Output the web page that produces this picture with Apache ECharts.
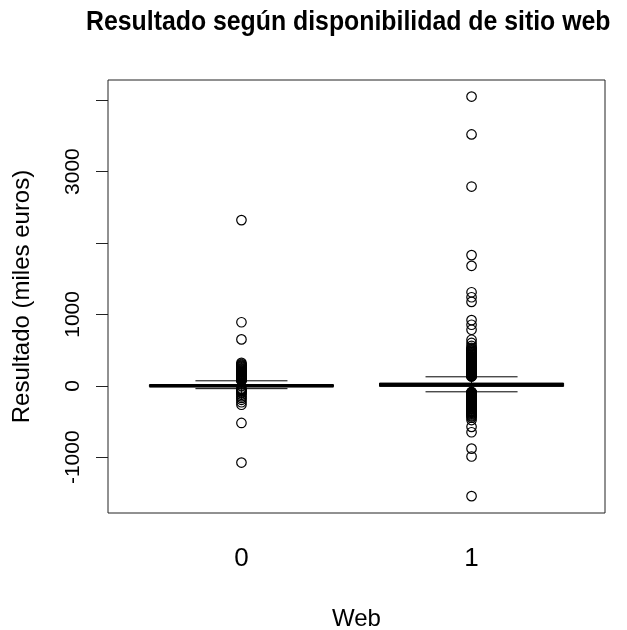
<!DOCTYPE html>
<html>
<head>
<meta charset="utf-8">
<script src="https://cdn.jsdelivr.net/npm/echarts@6/dist/echarts.min.js"></script>
<style>
  html, body { margin: 0; padding: 0; background: #fff; }
  #chart { width: 627px; height: 630px; }
</style>
</head>
<body>
<div id="chart"></div>
<script>
// Groups: whether the firm has a website (0 = no, 1 = yes)
const groups = ['0', '1'];
const groupPos = [1, 2];

// Box statistics per group (thousand euros)
const whiskerLow  = [-40, -84];
const quartile1   = [-12, -8];
const medians     = [0, 15];
const quartile3   = [14, 38];
const whiskerHigh = [70, 126];

// Outlying results per group (thousand euros)
const outliers0 = [2320, 890, 650,
  321, 305, 292, 280, 268, 257, 246, 236, 226, 217, 208, 199, 191, 183, 175, 168, 161, 154,
  147, 141, 135, 129, 123, 118, 113, 108, 103, 98, 94, 90, 86, 82, 78, 75,
  -45, -50, -56, -62, -70, -80, -92, -105, -126, -150, -170, -196, -230, -265,
  -520, -1075];
const outliers1 = [4050, 3520, 2790, 1830, 1680, 1310, 1240, 1175, 920, 855, 785, 645, 600, 560,
  531, 520, 508, 497, 488, 476, 465, 455, 447, 436, 428, 417, 409, 398, 390, 381, 372, 364, 355,
  348, 340, 333, 325, 318, 311, 303, 296, 290, 283, 277, 270, 264, 258, 252, 246, 240, 234, 229,
  223, 218, 212, 207, 202, 197, 192, 187, 182, 178, 173, 169, 164, 160, 156, 152, 148, 144, 140,
  137, 133, 130,
  -86, -90, -95, -99, -104, -109, -113, -118, -123, -128, -134, -139, -145, -150, -156, -162,
  -168, -174, -181, -187, -194, -201, -208, -216, -223, -231, -239, -247, -256, -265, -274, -283,
  -292, -302, -312, -322, -333, -344, -355, -366, -378, -390, -402, -415, -428, -447,
  -480, -575, -650, -880, -990, -1545];

// Axis ticks and the subset that carries labels
const yTicks = [-1000, 0, 1000, 2000, 3000, 4000];
const yLabels = [-1000, 0, 1000, 3000];

const TITLE = 'Resultado según disponibilidad de sitio web';
const FONT = '"Liberation Sans", Arial, sans-serif';
const INK = '#000';
const AXIS = '#222';

const boxData = groupPos.map((p, i) =>
  [p, whiskerLow[i], quartile1[i], medians[i], quartile3[i], whiskerHigh[i]]);

const outlierData = [];
outliers0.forEach(v => outlierData.push([groupPos[0], v]));
outliers1.forEach(v => outlierData.push([groupPos[1], v]));

function renderBox(params, api) {
  const x = api.value(0);
  const lo = api.value(1), q1 = api.value(2), med = api.value(3), q3 = api.value(4), hi = api.value(5);
  const half = api.size([0.8, 0])[0] / 2;
  const stapleHalf = half / 2;
  const pLo = api.coord([x, lo]), pQ1 = api.coord([x, q1]), pMed = api.coord([x, med]);
  const pQ3 = api.coord([x, q3]), pHi = api.coord([x, hi]);
  const cx = pMed[0];
  const thin = { stroke: INK, lineWidth: 1, fill: null };
  return {
    type: 'group',
    children: [
      { type: 'line', shape: { x1: cx, y1: pQ3[1], x2: cx, y2: pHi[1] }, style: Object.assign({ lineDash: [4, 3] }, thin) },
      { type: 'line', shape: { x1: cx, y1: pQ1[1], x2: cx, y2: pLo[1] }, style: Object.assign({ lineDash: [4, 3] }, thin) },
      { type: 'line', shape: { x1: cx - stapleHalf, y1: pHi[1], x2: cx + stapleHalf, y2: pHi[1] }, style: thin },
      { type: 'line', shape: { x1: cx - stapleHalf, y1: pLo[1], x2: cx + stapleHalf, y2: pLo[1] }, style: thin },
      { type: 'rect', shape: { x: cx - half, y: pQ3[1], width: 2 * half, height: pQ1[1] - pQ3[1] }, style: thin },
      { type: 'line', shape: { x1: cx - half, y1: pMed[1], x2: cx + half, y2: pMed[1] }, style: { stroke: INK, lineWidth: 3.5 } }
    ]
  };
}

const chart = echarts.init(document.getElementById('chart'), null, { renderer: 'canvas' });
chart.setOption({
  animation: false,
  backgroundColor: '#fff',
  // condensed bold title
  graphic: [{
    type: 'text',
    x: 86,
    y: 9,
    scaleX: 0.92,
    silent: true,
    style: {
      text: TITLE,
      fontFamily: FONT,
      fontWeight: 'bold',
      fontSize: 27,
      fill: INK,
      verticalAlign: 'top'
    }
  }],
  grid: {
    left: 108, right: 22, top: 80, bottom: 117,
    outerBoundsMode: 'none',
    containLabel: false,
    show: true, borderColor: AXIS, borderWidth: 1, backgroundColor: 'transparent'
  },
  xAxis: {
    type: 'value',
    min: 0.42, max: 2.58,
    name: 'Web',
    nameLocation: 'middle',
    nameGap: 94,
    nameTextStyle: { fontFamily: FONT, fontSize: 24, color: INK },
    axisLine: { show: false },
    axisTick: { show: true, length: 14, lineStyle: { color: AXIS, width: 1 }, customValues: groupPos },
    axisLabel: {
      margin: 33, fontFamily: FONT, fontSize: 26, color: INK,
      customValues: groupPos,
      formatter: v => groups[Math.round(v) - 1]
    },
    splitLine: { show: false }
  },
  yAxis: {
    type: 'value',
    min: -1781, max: 4282,
    name: 'Resultado (miles euros)',
    nameLocation: 'middle',
    nameRotate: 90,
    nameGap: 74,
    nameTextStyle: { fontFamily: FONT, fontSize: 24, color: INK },
    axisLine: { show: false },
    axisTick: { show: true, length: 12, lineStyle: { color: AXIS, width: 1 }, customValues: yTicks },
    axisLabel: {
      rotate: 90, margin: 24, fontFamily: FONT, fontSize: 21, color: INK,
      customValues: yLabels,
      formatter: v => String(v)
    },
    splitLine: { show: false }
  },
  series: [
    {
      type: 'custom',
      renderItem: renderBox,
      data: boxData,
      encode: { x: 0, y: [1, 2, 3, 4, 5] },
      z: 2
    },
    {
      type: 'scatter',
      data: outlierData,
      symbol: 'circle',
      symbolSize: 9.5,
      itemStyle: { color: 'rgba(0,0,0,0)', borderColor: INK, borderWidth: 1.2, opacity: 1 },
      emphasis: { disabled: true },
      z: 3
    }
  ]
});
</script>
</body>
</html>
